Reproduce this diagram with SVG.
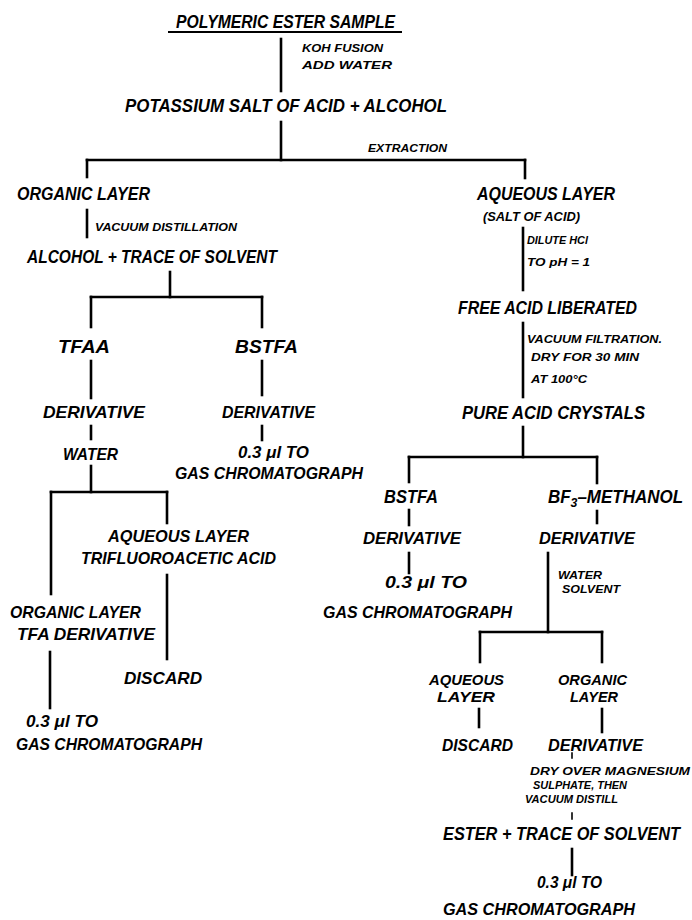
<svg xmlns="http://www.w3.org/2000/svg" width="692" height="920" viewBox="0 0 692 920">
<style>
text{font-family:"Liberation Sans",Arial,sans-serif;font-style:italic;font-weight:bold;fill:#000}
.L{font-size:18px}
.M{font-size:17px}
.T{font-size:15.5px}
.S{font-size:11.5px}
.S2{font-size:12.5px}
#connectors line{stroke:#000;stroke-width:2.6;stroke-linecap:square}
#connectors line.thin{stroke-width:1.6}
</style>
<rect width="692" height="920" fill="#fff"/>
<g id="connectors">
<line x1="281" y1="39" x2="281" y2="91"/>
<line x1="281" y1="122" x2="281" y2="160"/>
<line x1="87" y1="160" x2="525" y2="160"/>
<line x1="87" y1="160" x2="87" y2="177"/>
<line x1="525" y1="160" x2="525" y2="178"/>
<line x1="87" y1="210" x2="87" y2="237"/>
<line x1="523" y1="228" x2="523" y2="290"/>
<line x1="523" y1="323" x2="523" y2="397"/>
<line x1="170" y1="272" x2="170" y2="297"/>
<line x1="91" y1="297" x2="262" y2="297"/>
<line x1="91" y1="297" x2="91" y2="327"/>
<line x1="262" y1="297" x2="262" y2="327"/>
<line x1="91" y1="361" x2="91" y2="398"/>
<line x1="262" y1="361" x2="262" y2="395"/>
<line x1="91" y1="426" x2="91" y2="439"/>
<line x1="262" y1="426" x2="262" y2="440"/>
<line x1="91" y1="466" x2="91" y2="492"/>
<line x1="51" y1="492" x2="167" y2="492"/>
<line x1="51" y1="492" x2="51" y2="594"/>
<line x1="167" y1="492" x2="167" y2="523"/>
<line x1="167" y1="575" x2="167" y2="659"/>
<line x1="50" y1="652" x2="50" y2="708"/>
<line x1="523" y1="427" x2="523" y2="457"/>
<line x1="409" y1="457" x2="597" y2="457"/>
<line x1="409" y1="457" x2="409" y2="482"/>
<line x1="597" y1="457" x2="597" y2="483"/>
<line x1="409" y1="510" x2="409" y2="525"/>
<line x1="597" y1="511" x2="597" y2="523"/>
<line x1="409" y1="553" x2="409" y2="573"/>
<line x1="548" y1="553" x2="548" y2="632"/>
<line x1="480" y1="632" x2="602" y2="632"/>
<line x1="480" y1="632" x2="480" y2="662"/>
<line x1="602" y1="632" x2="602" y2="662"/>
<line x1="479" y1="709" x2="479" y2="727"/>
<line x1="602" y1="709" x2="602" y2="732"/>
<line class="thin" x1="572" y1="753" x2="572" y2="758"/>
<line class="thin" x1="572" y1="813" x2="572" y2="819"/>
<line x1="572" y1="849" x2="572" y2="875"/>
</g>
<g id="n-sample">
<text class="L" x="176" y="28" textLength="219" lengthAdjust="spacingAndGlyphs">POLYMERIC ESTER SAMPLE</text>
<line x1="168" y1="32" x2="402" y2="32" stroke="#000" stroke-width="2"/>
</g>
<g id="l-koh">
<text class="S" x="302" y="52" textLength="81" lengthAdjust="spacingAndGlyphs">KOH FUSION</text>
<text class="S" x="302" y="69" textLength="90" lengthAdjust="spacingAndGlyphs">ADD WATER</text>
</g>
<g id="n-potassium"><text class="L" x="125" y="112" textLength="322" lengthAdjust="spacingAndGlyphs">POTASSIUM SALT OF ACID + ALCOHOL</text></g>
<g id="l-extraction"><text class="S" x="368" y="152" textLength="79" lengthAdjust="spacingAndGlyphs">EXTRACTION</text></g>
<g id="n-organic1"><text class="L" x="17" y="200" textLength="133" lengthAdjust="spacingAndGlyphs">ORGANIC LAYER</text></g>
<g id="l-vacdist"><text class="S" x="95" y="231" textLength="142" lengthAdjust="spacingAndGlyphs">VACUUM DISTILLATION</text></g>
<g id="n-alcohol"><text class="L" x="27" y="263" textLength="250" lengthAdjust="spacingAndGlyphs">ALCOHOL + TRACE OF SOLVENT</text></g>
<g id="n-aqueous1">
<text class="L" x="477" y="200" textLength="138" lengthAdjust="spacingAndGlyphs">AQUEOUS LAYER</text>
<text class="S2" x="483" y="221" textLength="97" lengthAdjust="spacingAndGlyphs">(SALT OF ACID)</text>
</g>
<g id="l-hcl">
<text class="S" x="527" y="244" textLength="61" lengthAdjust="spacingAndGlyphs">DILUTE HCl</text>
<text class="S" x="527" y="266" textLength="63" lengthAdjust="spacingAndGlyphs">TO pH = 1</text>
</g>
<g id="n-freeacid"><text class="L" x="458" y="314" textLength="179" lengthAdjust="spacingAndGlyphs">FREE ACID LIBERATED</text></g>
<g id="l-filtration">
<text class="S" x="527" y="343" textLength="135" lengthAdjust="spacingAndGlyphs">VACUUM FILTRATION.</text>
<text class="S" x="531" y="361" textLength="108" lengthAdjust="spacingAndGlyphs">DRY FOR 30 MIN</text>
<text class="S" x="531" y="383" textLength="56" lengthAdjust="spacingAndGlyphs">AT 100°C</text>
</g>
<g id="n-pureacid"><text class="L" x="462" y="419" textLength="183" lengthAdjust="spacingAndGlyphs">PURE ACID CRYSTALS</text></g>
<g id="n-tfaa"><text class="L" x="58" y="353" textLength="52" lengthAdjust="spacingAndGlyphs">TFAA</text></g>
<g id="n-bstfa1"><text class="L" x="235" y="353" textLength="63" lengthAdjust="spacingAndGlyphs">BSTFA</text></g>
<g id="n-deriv1"><text class="M" x="43" y="418" textLength="102" lengthAdjust="spacingAndGlyphs">DERIVATIVE</text></g>
<g id="n-deriv2"><text class="M" x="222" y="418" textLength="93" lengthAdjust="spacingAndGlyphs">DERIVATIVE</text></g>
<g id="n-water1"><text class="M" x="63" y="460" textLength="55" lengthAdjust="spacingAndGlyphs">WATER</text></g>
<g id="n-gc1">
<text class="M" x="238" y="458" textLength="71" lengthAdjust="spacingAndGlyphs">0.3 μl TO</text>
<text class="M" x="175" y="479" textLength="188" lengthAdjust="spacingAndGlyphs">GAS CHROMATOGRAPH</text>
</g>
<g id="n-aqueous2">
<text class="M" x="108" y="542" textLength="141" lengthAdjust="spacingAndGlyphs">AQUEOUS LAYER</text>
<text class="M" x="81" y="564" textLength="195" lengthAdjust="spacingAndGlyphs">TRIFLUOROACETIC ACID</text>
</g>
<g id="n-organic2">
<text class="M" x="10" y="618" textLength="131" lengthAdjust="spacingAndGlyphs">ORGANIC LAYER</text>
<text class="M" x="17" y="640" textLength="138" lengthAdjust="spacingAndGlyphs">TFA  DERIVATIVE</text>
</g>
<g id="n-discard1"><text class="M" x="124" y="684" textLength="78" lengthAdjust="spacingAndGlyphs">DISCARD</text></g>
<g id="n-gc2">
<text class="M" x="26" y="727" textLength="72" lengthAdjust="spacingAndGlyphs">0.3 μl TO</text>
<text class="M" x="16" y="750" textLength="186" lengthAdjust="spacingAndGlyphs">GAS CHROMATOGRAPH</text>
</g>
<g id="n-bstfa2"><text class="L" x="384" y="503" textLength="54" lengthAdjust="spacingAndGlyphs">BSTFA</text></g>
<g id="n-bf3"><text class="L" x="548" y="503" textLength="135" lengthAdjust="spacingAndGlyphs">BF<tspan font-size="13" dy="4">3</tspan><tspan dy="-4">–METHANOL</tspan></text></g>
<g id="n-deriv3"><text class="M" x="363" y="544" textLength="98" lengthAdjust="spacingAndGlyphs">DERIVATIVE</text></g>
<g id="n-deriv4"><text class="M" x="539" y="544" textLength="96" lengthAdjust="spacingAndGlyphs">DERIVATIVE</text></g>
<g id="l-watersolvent">
<text class="S" x="558" y="579" textLength="44" lengthAdjust="spacingAndGlyphs">WATER</text>
<text class="S" x="562" y="593" textLength="58" lengthAdjust="spacingAndGlyphs">SOLVENT</text>
</g>
<g id="n-gc3">
<text class="M" x="385" y="588" textLength="82" lengthAdjust="spacingAndGlyphs">0.3 μl TO</text>
<text class="M" x="323" y="618" textLength="189" lengthAdjust="spacingAndGlyphs">GAS CHROMATOGRAPH</text>
</g>
<g id="n-aqueous3">
<text class="T" x="429" y="685" textLength="75" lengthAdjust="spacingAndGlyphs">AQUEOUS</text>
<text class="T" x="437" y="702" textLength="58" lengthAdjust="spacingAndGlyphs">LAYER</text>
</g>
<g id="n-organic3">
<text class="T" x="558" y="685" textLength="69" lengthAdjust="spacingAndGlyphs">ORGANIC</text>
<text class="T" x="570" y="702" textLength="48" lengthAdjust="spacingAndGlyphs">LAYER</text>
</g>
<g id="n-discard2"><text class="M" x="442" y="751" textLength="71" lengthAdjust="spacingAndGlyphs">DISCARD</text></g>
<g id="n-deriv5"><text class="M" x="548" y="751" textLength="95" lengthAdjust="spacingAndGlyphs">DERIVATIVE</text></g>
<g id="l-dry">
<text class="S" x="530" y="775" textLength="160" lengthAdjust="spacingAndGlyphs">DRY OVER MAGNESIUM</text>
<text class="S" x="533" y="789" textLength="94" lengthAdjust="spacingAndGlyphs">SULPHATE, THEN</text>
<text class="S" x="525" y="803" textLength="93" lengthAdjust="spacingAndGlyphs">VACUUM DISTILL</text>
</g>
<g id="n-ester"><text class="L" x="443" y="840" textLength="237" lengthAdjust="spacingAndGlyphs">ESTER + TRACE OF SOLVENT</text></g>
<g id="n-gc4">
<text class="M" x="537" y="888" textLength="65" lengthAdjust="spacingAndGlyphs">0.3 μl TO</text>
<text class="M" x="443" y="915" textLength="192" lengthAdjust="spacingAndGlyphs">GAS CHROMATOGRAPH</text>
</g>
</svg>
